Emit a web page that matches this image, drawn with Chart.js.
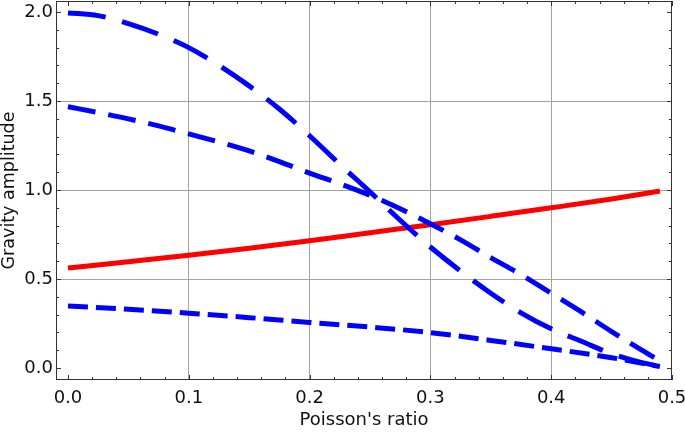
<!DOCTYPE html>
<html>
<head>
<meta charset="utf-8">
<script src="https://cdn.jsdelivr.net/npm/chart.js@4/dist/chart.umd.min.js"></script>
<style>
html,body{margin:0;padding:0;background:#fff;}
#wrap{width:685px;height:432px;position:relative;}
</style>
</head>
<body>
<div id="wrap"><canvas id="c" width="685" height="432"></canvas></div>
<script>
// ---- data ----
const xFine = [0, 0.025, 0.05, 0.075, 0.1, 0.125, 0.15, 0.175, 0.2, 0.225, 0.25, 0.275, 0.3, 0.325, 0.35, 0.375, 0.4, 0.425, 0.45, 0.475, 0.49];
const topCurve = [1.995, 1.98, 1.935, 1.875, 1.80, 1.70, 1.585, 1.455, 1.305, 1.145, 0.99, 0.83, 0.68, 0.545, 0.42, 0.31, 0.22, 0.15, 0.08, 0.03, 0.01];
const midCurve = [1.468, 1.435, 1.40, 1.36, 1.315, 1.27, 1.22, 1.16, 1.095, 1.035, 0.97, 0.895, 0.81, 0.72, 0.62, 0.525, 0.42, 0.315, 0.205, 0.10, 0.04];
const xCoarse = [0, 0.05, 0.1, 0.15, 0.2, 0.25, 0.3, 0.35, 0.4, 0.45, 0.49];
const lowCurve = [0.348, 0.33, 0.308, 0.283, 0.256, 0.23, 0.199, 0.155, 0.108, 0.058, 0.008];
const redCurve = [0.562, 0.597, 0.633, 0.673, 0.715, 0.76, 0.805, 0.852, 0.90, 0.95, 0.994];

const xTickValues = [0, 0.1, 0.2, 0.3, 0.4, 0.5];
const xTickLabels = ['0.0', '0.1', '0.2', '0.3', '0.4', '0.5'];
const yTickValues = [0, 0.5, 1.0, 1.5, 2.0];
const yTickLabels = ['0.0', '0.5', '1.0', '1.5', '2.0'];
const xTitle = "Poisson's ratio";
const yTitle = 'Gravity amplitude';

const pts = (xs, ys) => xs.map((x, i) => ({x, y: ys[i]}));

Chart.defaults.font.family = "'DejaVu Sans', sans-serif";
Chart.defaults.font.size = 18;
Chart.defaults.color = '#111';

const GRID = '#a3a3a3';
const FRAME = '#333';

const framePlugin = {
  id: 'frame',
  afterDatasetsDraw(chart) {
    const {ctx, chartArea: {left, right, top, bottom}, scales: {x, y}} = chart;
    ctx.save();
    ctx.strokeStyle = FRAME;
    ctx.lineWidth = 1;
    ctx.beginPath();
    for (let i = 0; i <= 25; i++) {
      const v = i * 0.02;
      const len = (i % 5 === 0) ? 5 : 3;
      const px = Math.round(x.getPixelForValue(v)) + 0.5;
      ctx.moveTo(px, bottom); ctx.lineTo(px, bottom - len);
      ctx.moveTo(px, top); ctx.lineTo(px, top + len);
    }
    for (let i = 0; i <= 20; i++) {
      const v = i * 0.1;
      const len = (i % 5 === 0) ? 5 : 3;
      const py = Math.round(y.getPixelForValue(v)) + 0.5;
      ctx.moveTo(left, py); ctx.lineTo(left + len, py);
      ctx.moveTo(right, py); ctx.lineTo(right - len, py);
    }
    ctx.stroke();
    ctx.strokeRect(Math.round(left) + 0.5, Math.round(top) + 0.5, Math.round(right - left) - 1, Math.round(bottom - top) - 1);
    ctx.restore();
  }
};

new Chart(document.getElementById('c'), {
  type: 'line',
  data: {
    datasets: [
      {data: pts(xFine, topCurve), borderColor: '#0000ff', borderWidth: 5, borderDash: [38, 17], order: 1},
      {data: pts(xFine, midCurve), borderColor: '#0000ff', borderWidth: 5, borderDash: [28, 13], order: 2},
      {data: pts(xCoarse, lowCurve), borderColor: '#0000ff', borderWidth: 5, borderDash: [20, 8], order: 3},
      {data: pts(xCoarse, redCurve), borderColor: '#ff0000', borderWidth: 5, order: 4}
    ]
  },
  options: {
    responsive: false,
    animation: false,
    events: [],
    layout: {padding: {top: 1, right: 13, left: 0, bottom: 0}},
    elements: {
      point: {radius: 0},
      line: {cubicInterpolationMode: 'monotone', borderCapStyle: 'butt', fill: false}
    },
    plugins: {legend: {display: false}, tooltip: {enabled: false}},
    scales: {
      x: {
        type: 'linear',
        min: -0.0099,
        max: 0.5,
        afterBuildTicks: s => { s.ticks = xTickValues.map(v => ({value: v})); },
        afterFit: s => { s.height = 52; s.paddingLeft = 0; s.paddingRight = 0; },
        ticks: {
          autoSkip: false, maxRotation: 0, padding: 8,
          callback: (v, i) => xTickLabels[i]
        },
        grid: {
          drawTicks: false,
          color: c => (c.tick && (c.tick.value === 0 || c.tick.value === 0.5)) ? 'rgba(0,0,0,0)' : GRID,
          lineWidth: 1
        },
        border: {display: false},
        title: {display: true, text: xTitle, font: {size: 18}, padding: {top: 0, bottom: 1}}
      },
      y: {
        type: 'linear',
        min: -0.0674,
        max: 2.062,
        afterBuildTicks: s => { s.ticks = yTickValues.map(v => ({value: v})); },
        afterFit: s => { s.width = 56; s.paddingTop = 0; s.paddingBottom = 0; },
        ticks: {
          autoSkip: false, padding: 3,
          callback: (v, i) => yTickLabels[i]
        },
        grid: {
          drawTicks: false,
          color: c => (c.tick && (c.tick.value === 0 || c.tick.value === 2.0)) ? 'rgba(0,0,0,0)' : GRID,
          lineWidth: 1
        },
        border: {display: false},
        title: {display: true, text: yTitle, font: {size: 17.5, lineHeight: 1.1}, padding: {top: 0, bottom: 0}}
      }
    }
  },
  plugins: [framePlugin]
});
</script>
</body>
</html>
